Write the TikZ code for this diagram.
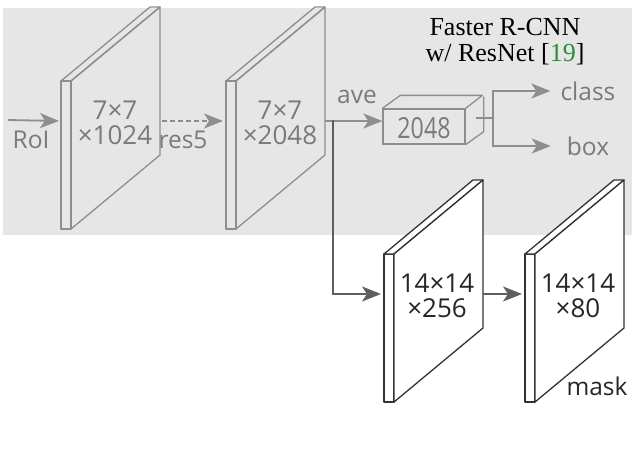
\documentclass[tikz,border=0pt]{standalone}
\usepackage{fontspec}
\setmainfont{Open Sans}
\newfontfamily\titlefont{Liberation Serif}
\usetikzlibrary{arrows.meta}
\definecolor{bggray}{HTML}{E6E6E6}
\definecolor{lgray}{HTML}{8E8E8E}
\definecolor{tgray}{HTML}{7A7A7A}
\definecolor{dgray}{HTML}{5E5E5E}
\definecolor{refgreen}{HTML}{2E8B3E}
\newcommand{\featplate}[4]{% #1 name, #2 x, #3 y (top-left of strip), #4 style
  \draw[#4] (#2,#3) rectangle ++(10,148);
  \draw[#4] (#2,#3) -- ++(89,-74) -- ++(10,0) -- ++(-89,74) -- cycle;
  \draw[#4] (#2+10,#3) -- ++(89,-74) -- ++(0,148) -- ++(-89,74) -- cycle;
  \coordinate (#1-in) at (#2,#3+40);
  \coordinate (#1-out) at (#2+99,#3+40);
}
\tikzset{
  platebase/.style={line width=1.3pt, line join=round},
  grayplate/.style={platebase, draw=lgray},
  whiteplate/.style={platebase, draw=black!80, fill=white},
  arr/.style={line width=1.8pt, draw=lgray, -{Stealth[length=19pt,width=15pt,inset=5pt]}},
  darr/.style={line width=1.8pt, draw=dgray, -{Stealth[length=19pt,width=15pt,inset=5pt]}},
  sans/.style={font=\fontsize{24.5}{25}\selectfont, inner sep=0pt},
  graytext/.style={sans, text=tgray},
  blacktext/.style={sans, text=black!85},
  platetext/.style={align=center, font=\fontsize{26}{25}\selectfont},
}
\begin{document}
\begin{tikzpicture}[x=1pt,y=-1pt]
\useasboundingbox (0,0) rectangle (640,471);
\fill[bggray] (3,8) rectangle (632,235);

% plates
\featplate{p1}{61}{81}{grayplate}
\featplate{p2}{226}{81}{grayplate}
\featplate{p3}{384}{254}{whiteplate}
\featplate{p4}{525}{254}{whiteplate}

\node[graytext, platetext] (t1) at (115,122.5) {7×7\\×1024};
\node[graytext, platetext] (t2) at (280,122.5) {7×7\\×2048};
\node[blacktext, platetext] (t3) at (437,296) {14×14\\×256};
\node[blacktext, platetext] (t4) at (578,296) {14×14\\×80};
\node[blacktext, anchor=base] (mask) at (597,395) {mask};

% 2048 box
\node[draw=lgray, line width=1.3pt, minimum width=82pt, minimum height=35pt, inner sep=0pt] (fc) at (424,126.5) {};
\node[text=tgray, inner sep=0pt, font=\fontsize{29}{30}\selectfont, xscale=0.8] (fcl) at (424,128) {2048};
\draw[lgray, line width=1.3pt, line join=round] (fc.north west) -- ++(18,-13) -- ++(82,0) -- (fc.north east);
\draw[lgray, line width=1.3pt, line join=round] (fc.south east) -- ++(18,-13) -- ++(0,-35);

% labels
\node[graytext] (roi) at (31,140) {RoI};
\node[graytext] (res) at (183,140) {res5};
\node[graytext] (ave) at (357,97) {ave};
\node[graytext] (cls) at (588,91) {class};
\node[graytext] (bx) at (588,146) {box};

\node[font=\titlefont\fontsize{26}{26}\selectfont, align=center, inner sep=0pt] (title) at (505,42)
  {Faster R-CNN\\w/ ResNet [\textcolor{refgreen}{19}]};

% connectors
\coordinate (roiStart) at (8,120);
\draw[arr, shorten >=2pt] (roiStart) -- (p1-in);
\draw[arr, dash pattern=on 5pt off 3pt, shorten <=2pt, shorten >=3pt] (p1-out) -- (p2-in);
\draw[arr] (p2-out) -- (p2-out -| fc.west);
\coordinate (split) at (333,120);
\draw[darr, shorten >=3pt] (split) |- (p3-in);
\draw[darr, shorten >=3pt] (p3-out) -- (p4-in);
\coordinate (bo) at (476,118);
\coordinate (bj) at (493,118);
\draw[lgray, line width=1.8pt] (bo) -- (bj);
\draw[arr, shorten >=10pt] (bj) |- (cls.west);
\draw[arr, shorten >=16pt] (bj) |- (bx.west);
\end{tikzpicture}
\end{document}
